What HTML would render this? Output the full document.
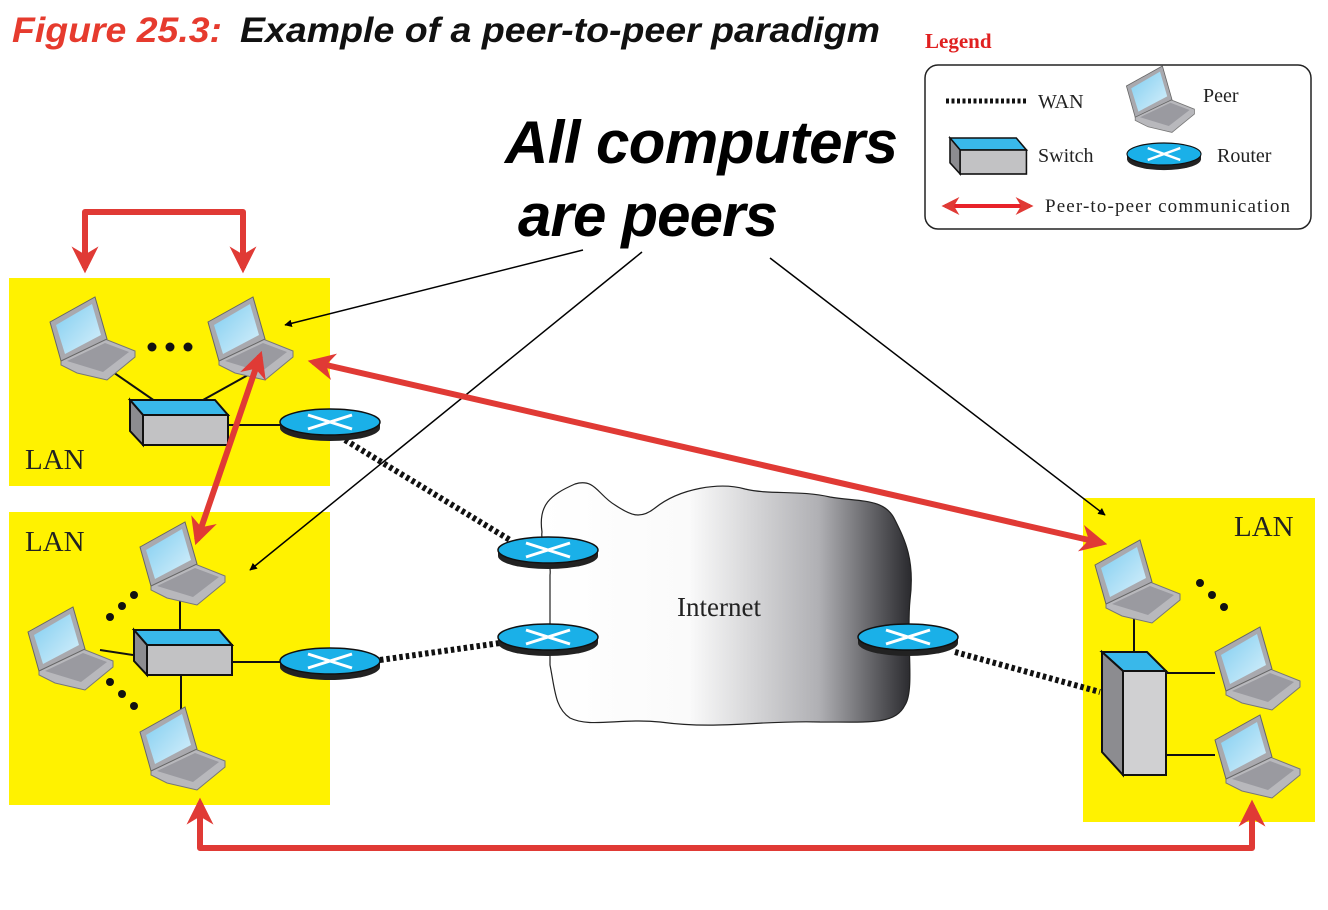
<!DOCTYPE html>
<html><head><meta charset="utf-8"><style>
html,body{margin:0;padding:0;background:#fff;}
svg{display:block}
</style></head><body>
<svg width="1328" height="910" viewBox="0 0 1328 910" xmlns="http://www.w3.org/2000/svg">
<defs>
<linearGradient id="cg" x1="0" x2="1" y1="0" y2="0">
<stop offset="0" stop-color="#fff"/><stop offset="0.4" stop-color="#fafafa"/><stop offset="0.75" stop-color="#b0b0b4"/><stop offset="1" stop-color="#2a2a2e"/>
</linearGradient>
<linearGradient id="scr" x1="0" x2="1" y1="0" y2="1"><stop offset="0" stop-color="#7fcdf0"/><stop offset="1" stop-color="#d8f0fb"/></linearGradient>
<g id="lap">
<polygon points="14,63 58,42 88,54 88,60 60,83 30,76 14,68" fill="#b8b8bc" stroke="#777" stroke-width="1"/>
<polygon points="20,64 58,46 82,55 56,75" fill="#9a9aa0"/>
<polygon points="3,25 48,0 60,42 14,64" fill="#a9a9ae" stroke="#666" stroke-width="1"/>
<polygon points="9,28 45,7 54,38 18,57" fill="url(#scr)"/>
</g>
<g id="rtr">
<ellipse cx="0" cy="6" rx="50" ry="13" fill="#222"/>
<rect x="-50" y="0" width="100" height="6" fill="#222"/>
<ellipse cx="0" cy="0" rx="50" ry="13" fill="#1ab0e8" stroke="#111" stroke-width="1.5"/>
<path d="M-22,-7 L22,7 M-22,7 L22,-7" stroke="#fff" stroke-width="3"/>
</g>
<g id="sw">
<polygon points="0,0 85,0 98,15 13,15" fill="#39b8ea" stroke="#111" stroke-width="2"/>
<polygon points="0,0 13,15 13,45 0,31" fill="#8c8c90" stroke="#111" stroke-width="2"/>
<rect x="13" y="15" width="85" height="30" fill="#c2c2c4" stroke="#111" stroke-width="2"/>
</g>
<marker id="ah" viewBox="0 0 10 10" refX="9" refY="5" markerWidth="5" markerHeight="5" orient="auto-start-reverse"><path d="M0,0 L10,5 L0,10 z" fill="#000"/></marker>
<marker id="rh" viewBox="0 0 10 10" refX="8" refY="5" markerWidth="4.5" markerHeight="5" orient="auto-start-reverse"><path d="M0,0 L10,5 L0,10 L3,5 z" fill="#e03a35"/></marker>
</defs>

<text x="12" y="42" font-family="Liberation Sans, sans-serif" font-size="35" font-weight="bold" font-style="italic" fill="#e63b2e" textLength="210" lengthAdjust="spacingAndGlyphs">Figure 25.3:</text>
<text x="240" y="42" font-family="Liberation Sans, sans-serif" font-size="35" font-weight="bold" font-style="italic" fill="#111" textLength="640" lengthAdjust="spacingAndGlyphs">Example of a peer-to-peer paradigm</text>

<text x="505" y="163" font-family="Liberation Sans, sans-serif" font-size="60" font-weight="bold" font-style="italic" fill="#000" textLength="393">All computers</text>
<text x="518" y="236" font-family="Liberation Sans, sans-serif" font-size="60" font-weight="bold" font-style="italic" fill="#000" textLength="260">are peers</text>

<!-- Legend -->
<text x="925" y="48" font-family="Liberation Serif, serif" font-size="21" font-weight="bold" fill="#e02020">Legend</text>
<rect x="925" y="65" width="386" height="164" rx="13" fill="#fff" stroke="#222" stroke-width="1.5"/>
<line x1="946" y1="101" x2="1028" y2="101" stroke="#111" stroke-width="5" stroke-dasharray="3,2.5"/>
<text x="1038" y="108" font-family="Liberation Serif, serif" font-size="20" fill="#222">WAN</text>
<use href="#lap" transform="translate(1124,66) scale(0.8)"/>
<text x="1203" y="102" font-family="Liberation Serif, serif" font-size="20" fill="#222">Peer</text>
<use href="#sw" transform="translate(950,138) scale(0.78,0.8)"/>
<text x="1038" y="162" font-family="Liberation Serif, serif" font-size="20" fill="#222">Switch</text>
<use href="#rtr" transform="translate(1164,154) scale(0.74,0.85)"/>
<text x="1217" y="162" font-family="Liberation Serif, serif" font-size="20" fill="#222">Router</text>
<line x1="945" y1="206" x2="1030" y2="206" stroke="#e8222a" stroke-width="4" marker-start="url(#rh)" marker-end="url(#rh)"/>
<text x="1045" y="212" font-family="Liberation Serif, serif" font-size="19" fill="#222" textLength="245">Peer-to-peer communication</text>

<!-- LANs -->
<rect x="9" y="278" width="321" height="208" fill="#fff200"/>
<rect x="9" y="512" width="321" height="293" fill="#fff200"/>
<rect x="1083" y="498" width="232" height="324" fill="#fff200"/>
<text x="25" y="469" font-family="Liberation Serif, serif" font-size="29" fill="#222">LAN</text>
<text x="25" y="551" font-family="Liberation Serif, serif" font-size="29" fill="#222">LAN</text>
<text x="1234" y="536" font-family="Liberation Serif, serif" font-size="29" fill="#222">LAN</text>

<!-- cloud -->
<path d="M542,532 C538,505 550,495 575,484 C595,478 598,495 615,505 C630,515 640,520 655,508 C680,488 720,482 745,489 C770,495 800,490 830,497 C860,502 885,498 895,520 C905,540 915,560 910,600 C906,640 915,690 905,705 C895,725 870,722 820,722 C760,720 720,730 660,722 C620,718 590,728 570,718 C555,708 555,690 550,665 L550,575 C552,560 540,545 542,532 Z" fill="url(#cg)" stroke="#222" stroke-width="1.2"/>
<text x="677" y="616" font-family="Liberation Serif, serif" font-size="27" fill="#222">Internet</text>

<!-- wiring -->
<g stroke="#111" stroke-width="2" fill="none">
<line x1="110" y1="370" x2="165" y2="408"/>
<line x1="248" y1="375" x2="185" y2="410"/>
<line x1="228" y1="425" x2="285" y2="425"/>
<line x1="180" y1="600" x2="180" y2="630"/>
<line x1="232" y1="662" x2="285" y2="662"/>
<line x1="181" y1="675" x2="181" y2="712"/>
<line x1="100" y1="650" x2="133" y2="655"/>
<line x1="1134" y1="618" x2="1134" y2="660"/>
<line x1="1166" y1="673" x2="1215" y2="673"/>
<line x1="1166" y1="755" x2="1215" y2="755"/>
</g>
<g stroke="#111" stroke-width="6" stroke-dasharray="3.5,3" fill="none">
<line x1="345" y1="440" x2="510" y2="540"/>
<line x1="380" y1="660" x2="500" y2="643"/>
<line x1="955" y1="652" x2="1100" y2="692"/>
</g>

<!-- devices -->
<use href="#lap" transform="translate(47,297)"/>
<use href="#lap" transform="translate(205,297)"/>
<g fill="#111"><circle cx="152" cy="347" r="4.5"/><circle cx="170" cy="347" r="4.5"/><circle cx="188" cy="347" r="4.5"/></g>
<use href="#sw" transform="translate(130,400)"/>
<use href="#rtr" transform="translate(330,422)"/>

<use href="#lap" transform="translate(137,522)"/>
<use href="#lap" transform="translate(25,607)"/>
<use href="#lap" transform="translate(137,707)"/>
<g fill="#111"><circle cx="110" cy="617" r="4"/><circle cx="122" cy="606" r="4"/><circle cx="134" cy="595" r="4"/>
<circle cx="110" cy="682" r="4"/><circle cx="122" cy="694" r="4"/><circle cx="134" cy="706" r="4"/></g>
<use href="#sw" transform="translate(134,630)"/>
<use href="#rtr" transform="translate(330,661)"/>

<use href="#rtr" transform="translate(548,550)"/>
<use href="#rtr" transform="translate(548,637)"/>
<use href="#rtr" transform="translate(908,637)"/>

<use href="#lap" transform="translate(1092,540)"/>
<use href="#lap" transform="translate(1212,627)"/>
<use href="#lap" transform="translate(1212,715)"/>
<g fill="#111"><circle cx="1200" cy="583" r="4"/><circle cx="1212" cy="595" r="4"/><circle cx="1224" cy="607" r="4"/></g>
<polygon points="1102,652 1147,652 1166,671 1123,671" fill="#39b8ea" stroke="#111" stroke-width="2"/>
<polygon points="1102,652 1123,671 1123,775 1102,752" fill="#8c8c90" stroke="#111" stroke-width="2"/>
<rect x="1123" y="671" width="43" height="104" fill="#d0d0d2" stroke="#111" stroke-width="2"/>

<!-- black arrows -->
<g stroke="#000" stroke-width="1.5" fill="none" marker-end="url(#ah)">
<line x1="583" y1="250" x2="285" y2="325"/>
<line x1="642" y1="252" x2="250" y2="570"/>
<line x1="770" y1="258" x2="1105" y2="515"/>
</g>

<!-- red arrows -->
<g stroke="#e03a35" stroke-width="6" fill="none" stroke-linejoin="round">
<polyline points="85,268 85,212 243,212 243,268" marker-start="url(#rh)" marker-end="url(#rh)"/>
<line x1="197" y1="540" x2="260" y2="356" marker-start="url(#rh)" marker-end="url(#rh)"/>
<line x1="313" y1="362" x2="1102" y2="543" marker-start="url(#rh)" marker-end="url(#rh)"/>
<polyline points="200,803 200,848 1252,848 1252,805" marker-start="url(#rh)" marker-end="url(#rh)"/>
</g>
</svg>
</body></html>
